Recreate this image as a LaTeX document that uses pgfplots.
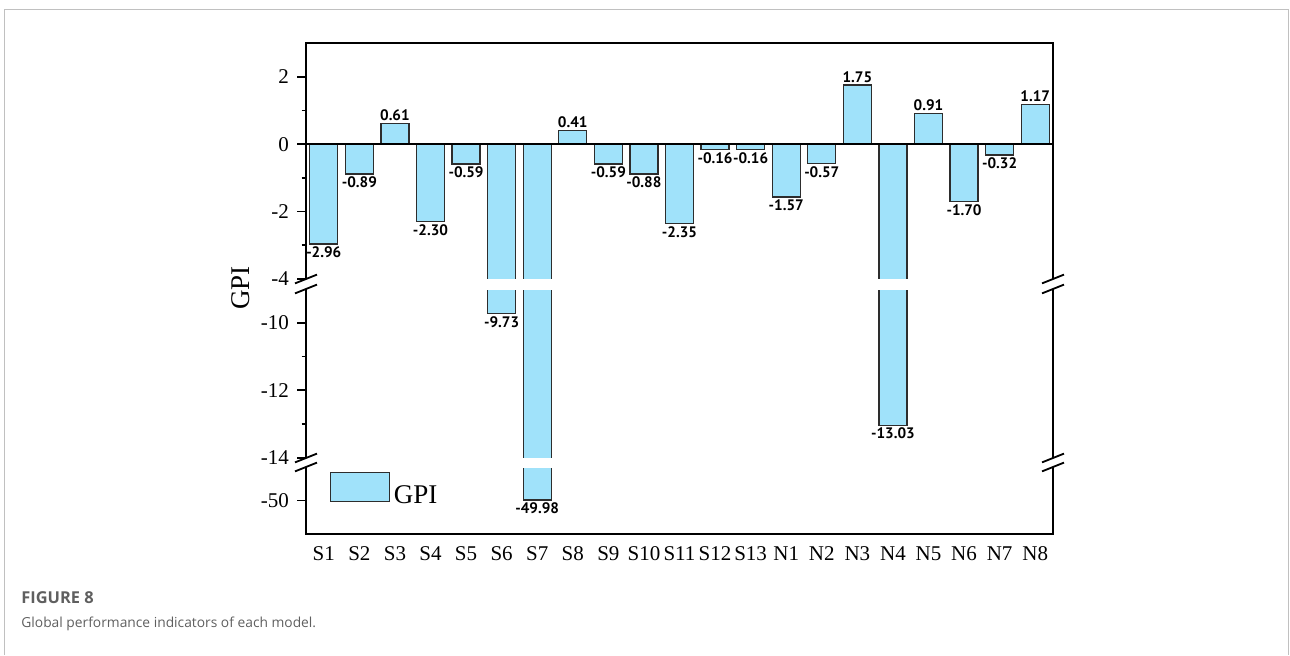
\documentclass[border=0pt]{standalone}
\usepackage{pgfplots}
\pgfplotsset{compat=1.18}
\usepackage{pgfplotstable}
\usepackage{fontspec}
\setmainfont{Liberation Serif}
\newfontfamily\lblfont{PT Sans}
\newfontfamily\capfont{Open Sans}
\definecolor{barfill}{RGB}{160,226,250}
\definecolor{baredge}{RGB}{45,45,45}
\definecolor{framegray}{RGB}{192,192,192}
\definecolor{capgray}{RGB}{95,95,95}

% all bars: index (S1..S13 = 0..12, N1..N8 = 13..20), GPI
\pgfplotstableread{
x y
0 -2.96
1 -0.89
2 0.61
3 -2.30
4 -0.59
5 -9.73
6 -49.98
7 0.41
8 -0.59
9 -0.88
10 -2.35
11 -0.16
12 -0.16
13 -1.57
14 -0.57
15 1.75
16 -13.03
17 0.91
18 -1.70
19 -0.32
20 1.17
}\gpi

% bars that reach the middle segment (-14 .. -9)
\pgfplotstableread{
x y
5 -9.73
6 -49.98
16 -13.03
}\gpimid

% bars that reach the bottom segment (-51 .. -49)
\pgfplotstableread{
x y
6 -49.98
}\gpibot

\pgfplotstableread{
x y lab
2 0.61 0.61
7 0.41 0.41
15 1.75 1.75
17 0.91 0.91
20 1.17 1.17
}\toppos

\pgfplotstableread{
x y lab
0 -2.96 -2.96
1 -0.89 -0.89
3 -2.30 -2.30
4 -0.59 -0.59
8 -0.59 -0.59
9 -0.88 -0.88
10 -2.35 -2.35
11 -0.16 -0.16
12 -0.16 -0.16
13 -1.57 -1.57
14 -0.57 -0.57
18 -1.70 -1.70
19 -0.32 -0.32
}\topneg

\pgfplotstableread{
x y lab
5 -9.73 -9.73
16 -13.03 -13.03
}\midneg

\pgfplotstableread{
x y lab
6 -49.98 -49.98
}\botneg

\pgfplotsset{
  brk/.style={
    scale only axis, width=373.5pt, anchor=south west,
    xmin=-0.5, xmax=20.5,
    axis lines*=left, axis line style={draw=none},
    xtick=\empty,
    tick align=outside, ytick pos=left,
    major tick length=4.5pt, minor tick length=2.25pt,
    tick style={black, line width=0.9pt},
    tick label style={font=\fontsize{10.5}{12}\selectfont},
    yticklabel style={xshift=-0.5pt},
  },
  bars/.style={ybar, bar width=14pt, bar shift=0pt, fill=barfill, draw=baredge, line width=0.7pt},
  lbl/.style={only marks, mark=*, mark size=0pt, mark options={draw=none, fill=none},
    point meta=explicit symbolic, nodes near coords,
    nodes near coords style={anchor=#1, inner sep=1.2pt, text=black,
      font=\lblfont\bfseries\fontsize{7.6}{8}\selectfont}},
}

\begin{document}
\begin{tikzpicture}
% top segment
\begin{axis}[brk, at={(153pt,188pt)}, height=118pt,
  ymin=-4, ymax=3, ytick={-4,-2,0,2}, yticklabels={-4,-2,0,2},
  minor ytick={-3,-1,1}]
\addplot[bars] table[x=x,y=y] {\gpi};
\addplot[lbl=south] table[x=x,y=y,meta=lab] {\toppos};
\addplot[lbl=north] table[x=x,y=y,meta=lab] {\topneg};
\draw[line width=1.1pt] (axis cs:-0.5,0) -- (axis cs:20.5,0);
\end{axis}
% middle segment
\begin{axis}[brk, at={(153pt,98.5pt)}, height=84.5pt,
  ymin=-14, ymax=-9, ytick={-14,-12,-10}, yticklabels={-14,-12,-10},
  minor ytick={-13,-11}]
\addplot[bars] table[x=x,y=y] {\gpimid};
\addplot[lbl=north] table[x=x,y=y,meta=lab] {\midneg};
\end{axis}
% bottom segment
\begin{axis}[brk, at={(153pt,60.5pt)}, height=33.5pt,
  ymin=-51, ymax=-49, ytick={-50}, yticklabels={-50},
  xtick={0,...,20},
  xticklabels={S1,S2,S3,S4,S5,S6,S7,S8,S9,S10,S11,S12,S13,N1,N2,N3,N4,N5,N6,N7,N8},
  x tick style={draw=none},
  xticklabel style={yshift=2pt, text height=7.2pt, text depth=0pt},
  legend style={at={(0.031,0.93)}, anchor=north west, draw=none, fill=none,
    inner sep=0pt, font=\fontsize{13.5}{15}\selectfont},
  ]
\addplot[bars, legend image code/.code={\draw[fill=barfill, draw=baredge, line width=0.7pt] (0pt,-2.75pt) rectangle (29.5pt,11.75pt);}] table[x=x,y=y] {\gpibot};
\addlegendentry{GPI}
\addplot[lbl=north] table[x=x,y=y,meta=lab] {\botneg};
\end{axis}
% white gaps that open the broken bars
\fill[white] (153.8pt,182.3pt) rectangle (525.7pt,188pt);
\fill[white] (153.8pt,93.3pt) rectangle (525.7pt,98.5pt);
% broken frame
\begin{scope}[line width=1.2pt]
\draw (153pt,188pt) -- (153pt,306pt) -- (526.5pt,306pt) -- (526.5pt,188pt);
\draw (153pt,98.5pt) -- (153pt,183pt);
\draw (526.5pt,98.5pt) -- (526.5pt,183pt);
\draw (153pt,94pt) -- (153pt,60.5pt) -- (526.5pt,60.5pt) -- (526.5pt,94pt);
\end{scope}
% break marks
\begin{scope}[line width=0.9pt]
\foreach \xx in {153,526.5}{
  \foreach \yy in {188,183,98.5,94}{
    \draw (\xx pt-5.5pt,\yy pt-2.2pt) -- (\xx pt+5.5pt,\yy pt+2.2pt);
  }
}
\end{scope}
% y label
\node[rotate=90, font=\fontsize{13.5}{15}\selectfont] at (120.5pt,183.5pt) {GPI};
% outer figure frame and caption
\draw[framegray, line width=0.6pt] (2.25pt,0pt) -- (2.25pt,322.75pt) -- (644.25pt,322.75pt) -- (644.25pt,0pt);
\node[anchor=west, inner sep=0pt, text=capgray, font=\capfont\bfseries\fontsize{8.2}{10}\selectfont] at (10.5pt,28.5pt) {FIGURE 8};
\node[anchor=west, inner sep=0pt, text=capgray, font=\capfont\fontsize{6.9}{8}\selectfont] at (10.5pt,15.5pt) {Global performance indicators of each model.};
\pgfresetboundingbox
\useasboundingbox (0pt,0pt) rectangle (645pt,327.5pt);
\end{tikzpicture}
\end{document}
